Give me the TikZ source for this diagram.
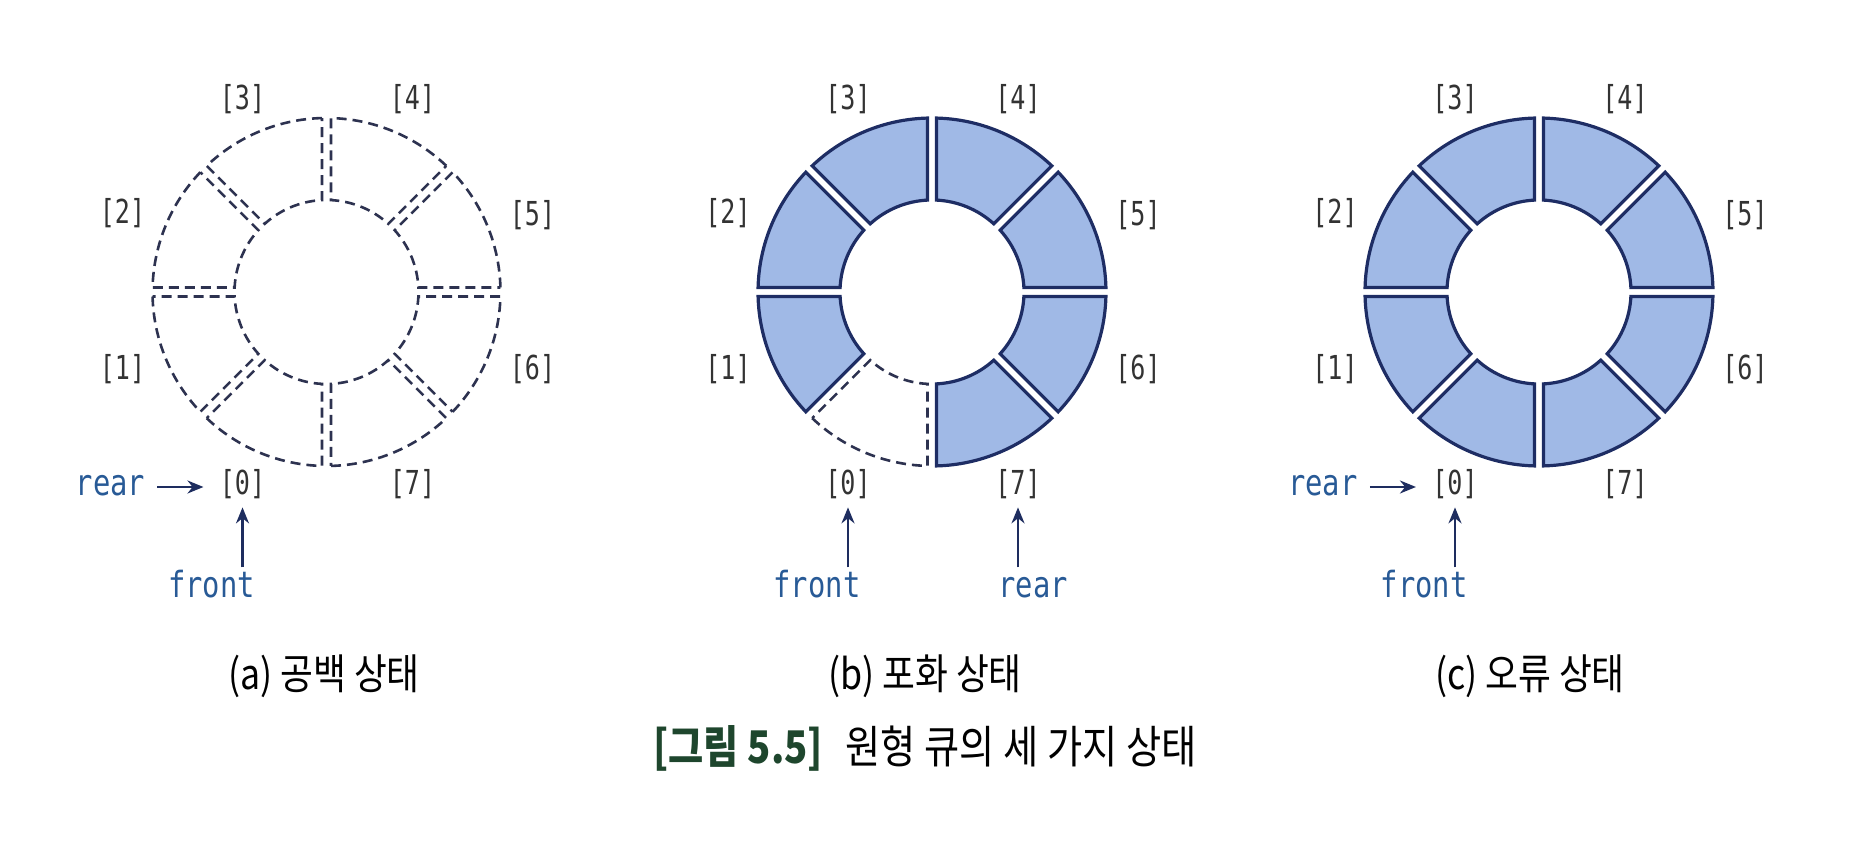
\documentclass[tikz,border=0pt]{standalone}
\usepackage{fontspec}
\usetikzlibrary{arrows.meta, positioning}
\newfontfamily\krfont[FakeStretch=0.85]{Noto Sans CJK KR}
\newfontfamily\idxfont[FakeStretch=0.76]{DejaVu Sans Mono}
\newfontfamily\ptrfont[FakeStretch=0.8]{DejaVu Sans Mono}
\definecolor{qfill}{RGB}{160, 185, 230}
\definecolor{qline}{RGB}{30, 45, 100}
\definecolor{qdash}{RGB}{45, 50, 80}
\definecolor{ptrblue}{RGB}{40, 90, 150}
\definecolor{ptrnavy}{RGB}{30, 45, 95}
\definecolor{figgreen}{RGB}{30, 70, 45}

\tikzset{
  slotfull/.style={draw=qline, line width=1.6pt, fill=qfill},
  slotempty/.style={draw=qdash, line width=1.3pt, dash pattern=on 5pt off 3pt},
  idx/.style={font=\idxfont\fontsize{16.5}{16.5}\selectfont, text=black!80, inner sep=3pt, text height=11pt, text depth=3pt},
  ptr/.style={font=\ptrfont\fontsize{18}{18}\selectfont, text=ptrblue, inner sep=3pt, text height=12pt, text depth=3pt},
  ptrarrow/.style={-{Stealth[length=8pt, width=6.5pt]}, line width=1.2pt, ptrnavy},
  subcap/.style={font=\krfont\fontsize{21}{21}\selectfont},
}

% one slot of the ring: #1 = start angle, #2 = style
\newcommand{\qslot}[2]{%
  \draw[#2] ({#1+1.48}:174) arc[start angle={#1+1.48}, end angle={#1+43.52}, radius=174]
    -- ({#1+42.2}:92) arc[start angle={#1+42.2}, end angle={#1+2.8}, radius=92] -- cycle;}

\begin{document}
\begin{tikzpicture}[x=0.5pt, y=0.5pt]
    \useasboundingbox (0,0) rectangle (1849,862);

    % (a) empty
    \begin{scope}[shift={(326.5,570)}]
        \foreach \s in {225,180,...,-90} \qslot{\s}{slotempty};
        \foreach \k/\lx/\ly in {0/-84/-195, 1/-204/-80, 2/-204/76, 3/-84/190, 4/86/190, 5/206/74, 6/206/-80, 7/86/-195}
            \node[idx] (a\k) at (\lx,\ly) {[\k]};
    \end{scope}
    \node[ptr, left=31pt of a0] (reara) {rear};
    \node[ptr, below=30pt of a0, xshift=-15.5pt] (fronta) {front};
    \draw[ptrarrow, shorten <=3pt, shorten >=5pt] (reara) -- (a0);
    \draw[ptrarrow] (a0 |- fronta.north) -- (a0.south);

    % (b) full
    \begin{scope}[shift={(932,570)}]
        \qslot{225}{slotempty};
        \foreach \s in {180,135,...,-90} \qslot{\s}{slotfull};
        \foreach \k/\lx/\ly in {0/-84/-195, 1/-204/-80, 2/-204/76, 3/-84/190, 4/86/190, 5/206/74, 6/206/-80, 7/86/-195}
            \node[idx] (b\k) at (\lx,\ly) {[\k]};
    \end{scope}
    \node[ptr, below=30pt of b0, xshift=-15.5pt] (frontb) {front};
    \node[ptr, below=30pt of b7, xshift=7.5pt] (rearb) {rear};
    \draw[ptrarrow] (b0 |- frontb.north) -- (b0.south);
    \draw[ptrarrow] (b7 |- rearb.north) -- (b7.south);

    % (c) error
    \begin{scope}[shift={(1539,570)}]
        \foreach \s in {225,180,...,-90} \qslot{\s}{slotfull};
        \foreach \k/\lx/\ly in {0/-84/-195, 1/-204/-80, 2/-204/76, 3/-84/190, 4/86/190, 5/206/74, 6/206/-80, 7/86/-195}
            \node[idx] (c\k) at (\lx,\ly) {[\k]};
    \end{scope}
    \node[ptr, left=31pt of c0] (rearc) {rear};
    \node[ptr, below=30pt of c0, xshift=-15.5pt] (frontc) {front};
    \draw[ptrarrow, shorten <=3pt, shorten >=5pt] (rearc) -- (c0);
    \draw[ptrarrow] (c0 |- frontc.north) -- (c0.south);

    % captions
    \node[subcap] (capa) at (324,186) {(a) 공백 상태};
    \node[subcap] (capb) at (925,186) {(b) 포화 상태};
    \node[subcap] (capc) at (1530,186) {(c) 오류 상태};
    \node[font=\krfont\fontsize{22.5}{22.5}\selectfont] (figcap) at (925,114)
        {{\color{figgreen}\bfseries [그림 5.5]}\hspace{0.5em}원형 큐의 세 가지 상태};
\end{tikzpicture}
\end{document}
